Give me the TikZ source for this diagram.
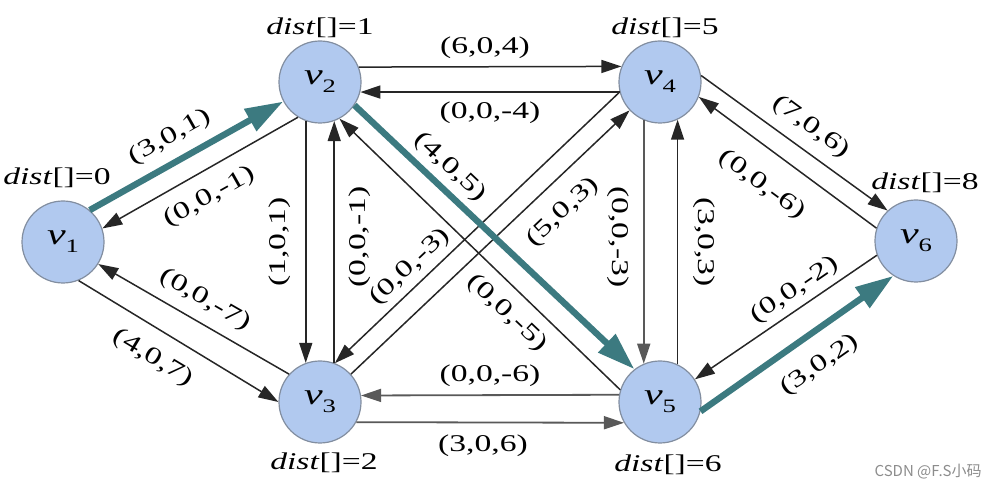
\documentclass[tikz,border=0pt]{standalone}
\usepackage{fontspec}
\setmainfont[FakeStretch=1.4]{Liberation Serif}
\newfontfamily\cjkfont{Noto Sans CJK SC}
\usetikzlibrary{arrows.meta}
\definecolor{nodefill}{RGB}{177,201,239}
\definecolor{nodeedge}{RGB}{130,142,160}
\definecolor{pathteal}{RGB}{60,122,128}
\newcommand{\vlab}[1]{\textit{v}\raisebox{-4pt}{\fontsize{9.5}{9.5}\selectfont #1}}
\begin{document}
\begin{tikzpicture}[x=0.5pt,y=-0.5pt,
  vert/.style={circle, draw=nodeedge, fill=nodefill, line width=0.6pt, minimum size=41pt, inner sep=0pt, font=\fontsize{15}{15}\selectfont},
  thinarc/.style={draw=black!85, line width=0.75pt, -{Triangle[length=10pt,width=6.5pt]}},
  greyarc/.style={thinarc, draw=black!65, line width=0.9pt},
  patharc/.style={draw=pathteal, line width=3.2pt, -{Triangle[length=19pt,width=12pt]}},
  elabel/.style={inner sep=0pt, font=\fontsize{12}{12}\selectfont},
  dlabel/.style={inner sep=0pt, anchor=base, font=\fontsize{12}{12}\selectfont},
]
\useasboundingbox (0,0) rectangle (997,490);
% vertices
\node[vert] (v1) at (63,242) {\vlab{1}};
\node[vert] (v2) at (320,82) {\vlab{2}};
\node[vert] (v3) at (320,402) {\vlab{3}};
\node[vert] (v4) at (660,82) {\vlab{4}};
\node[vert] (v5) at (660,402) {\vlab{5}};
\node[vert] (v6) at (916,241) {\vlab{6}};
% dist labels
\node[dlabel] (d1) at (57,185) {\textit{dist}[]=0};
\node[dlabel] (d2) at (320,35) {\textit{dist}[]=1};
\node[dlabel] (d3) at (324,470) {\textit{dist}[]=2};
\node[dlabel] (d4) at (665,35) {\textit{dist}[]=5};
\node[dlabel] (d5) at (668,472) {\textit{dist}[]=6};
\node[dlabel] (d6) at (925,190) {\textit{dist}[]=8};
% edges
\draw[patharc] (v1.50.2) -- (v2.208.9);
\draw[thinarc] (v2.238.6) -- (v1.19.7);
\draw[thinarc] (v3.138) -- (v1.-32);
\draw[thinarc] (v1.-68.5) -- (v3.180);
\draw[thinarc] (v2.21.5) -- (v4.158.5);
\draw[thinarc] (v4.194.1) -- (v2.-14.1);
\draw[thinarc] (v2.-110) -- (v3.110);
\draw[thinarc] (v3.70) -- (v2.-70);
\draw[thinarc] (v5.163.3) -- (v2.-62.7);
\draw[thinarc] (v4.194.7) -- (v3.69);
\draw[thinarc] (v3.42.2) -- (v4.223.2);
\draw[patharc] (v2.-34.9) -- (v5.128);
\draw[greyarc] (v4.-113) -- (v5.113);
\draw[thinarc] (v5.65.5) -- (v4.-65.5);
\draw[greyarc] (v5.170.2) -- (v3.9.8);
\draw[greyarc] (v3.-29.2) -- (v5.-150.8);
\draw[thinarc] (v4.9.2) -- (v6.133);
\draw[thinarc] (v6.162.4) -- (v4.-21.8);
\draw[thinarc] (v6.200.4) -- (v5.33);
\draw[patharc] (v5.-13.4) -- (v6.237);
% edge labels
\node[elabel, rotate=29.4] (l12) at (170,137) {(3,0,1)};
\node[elabel, rotate=29.4] (l21) at (210,197) {(0,0,-1)};
\node[elabel, rotate=-30] (l31) at (205,300) {(0,0,-7)};
\node[elabel, rotate=-31] (l13) at (153,358) {(4,0,7)};
\node[elabel] (l24) at (485,48) {(6,0,4)};
\node[elabel] (l42) at (490,113) {(0,0,-4)};
\node[elabel, rotate=90] (l23) at (280,242) {(1,0,1)};
\node[elabel, rotate=90] (l32) at (360,237) {(0,0,-1)};
\node[elabel, rotate=-43.5] (l25) at (450,167) {(4,0,5)};
\node[elabel, rotate=-43.5] (l52) at (507,313) {(0,0,-5)};
\node[elabel, rotate=43.5] (l34) at (563,212) {(5,0,3)};
\node[elabel, rotate=43.5] (l43) at (410,267) {(0,0,-3)};
\node[elabel, rotate=-90] (l45) at (618,237) {(0,0,-3)};
\node[elabel, rotate=-90] (l54) at (704,242) {(3,0,3)};
\node[elabel, rotate=-36.3] (l46) at (811,127) {(7,0,6)};
\node[elabel, rotate=-36.3] (l64) at (762,185) {(0,0,-6)};
\node[elabel, rotate=34.5] (l65) at (795,290) {(0,0,-2)};
\node[elabel, rotate=35.2] (l56) at (820,365) {(3,0,2)};
\node[elabel] (l53) at (490,376) {(0,0,-6)};
\node[elabel] (l35) at (483,446) {(3,0,6)};
% watermark
\node[anchor=base east, inner sep=0pt, text=black!45, font=\cjkfont\fontsize{7.5}{7.5}\selectfont] (wm) at (982,477) {CSDN @F.S小码};
\end{tikzpicture}
\end{document}
